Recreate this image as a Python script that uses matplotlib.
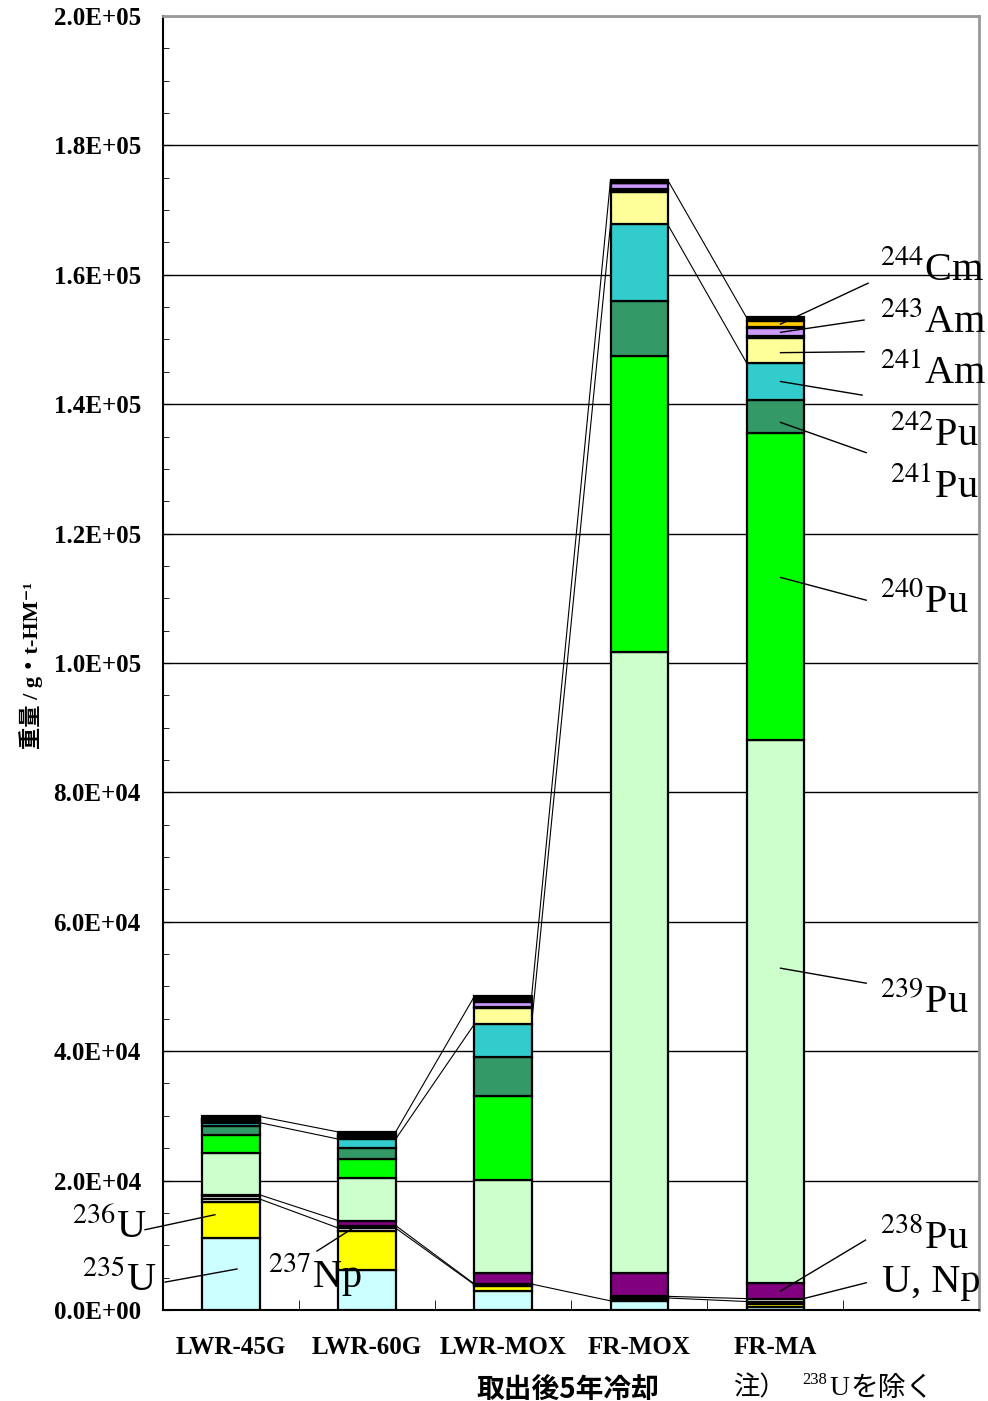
import numpy as np
import matplotlib.pyplot as plt
from matplotlib.ticker import MultipleLocator, FixedLocator

plt.rcParams['font.family'] = ['Liberation Serif', 'Noto Sans CJK JP', 'DejaVu Sans']
plt.rcParams['mathtext.fontset'] = 'stix'

cases = ['LWR-45G', 'LWR-60G', 'LWR-MOX', 'FR-MOX', 'FR-MA']

# weight per nuclide, g/t-HM, one value per case (bottom of the stack first)
u235 = [11100, 6200, 2950, 1400, 500]
u236 = [5650, 6050, 800, 250, 400]
u234 = [400, 400, 150, 200, 400]
np237 = [450, 400, 100, 250, 450]
pu238 = [200, 750, 1700, 3600, 2350]
pu239 = [6500, 6600, 14400, 96000, 84000]
pu240 = [2800, 3000, 13000, 45800, 47400]
pu241 = [1300, 1700, 6050, 8500, 5100]
pu242 = [550, 1300, 5050, 11800, 5800]
am241 = [250, 300, 2400, 4950, 3900]
am242m = [0, 0, 150, 500, 200]
am243 = [150, 200, 900, 950, 1200]
cm243 = [0, 0, 250, 0, 150]
cm244 = [100, 150, 300, 0, 1050]
others = [450, 450, 300, 450, 500]

series = [u235, u236, u234, np237, pu238, pu239, pu240, pu241, pu242,
          am241, am242m, am243, cm243, cm244, others]
colors = ['#CCFFFF', '#FFFF00', '#FFFFFF', '#FFFFFF', '#800080', '#CCFFCC',
          '#00FF00', '#339966', '#33CCCC', '#FFFF99', '#000000', '#CC99FF',
          '#000000', '#FFCC00', '#000000']

ytick_labels = ['0.0E+00', '2.0E+04', '4.0E+04', '6.0E+04', '8.0E+04', '1.0E+05',
                '1.2E+05', '1.4E+05', '1.6E+05', '1.8E+05', '2.0E+05']

# series lines between neighbouring bars: (left bar, stack level left, stack level right)
links = [(0, 15, 15), (0, 9, 9), (0, 5, 5), (0, 3, 3),
         (1, 15, 15), (1, 9, 9), (1, 4, 4), (1, 3, 3),
         (2, 15, 15), (2, 9, 9), (2, 4, 1),
         (3, 15, 15), (3, 9, 9), (3, 4, 4), (3, 3, 3)]

# labels: text, text x, text y, line start x, line start y, bar, series, fraction, x offset
labels = [
    ('$^{244}$Cm', 4.772, 160700, 4.684, 158700, 4, 13, 0.5, 0.04),
    ('$^{243}$Am', 4.772, 152700, 4.654, 153000, 4, 11, 0.5, 0.04),
    ('$^{241}$Am', 4.772, 144800, 4.654, 148100, 4, 9, 0.4, 0.04),
    (None, 0, 0, 4.64, 141400, 4, 8, 0.5, 0.04),
    ('$^{242}$Pu', 4.846, 135200, 4.67, 132500, 4, 7, 0.33, 0.04),
    ('$^{241}$Pu', 4.846, 127200, None, None, 4, 7, 0.5, 0.04),
    ('$^{240}$Pu', 4.772, 109400, 4.67, 109700, 4, 6, 0.53, 0.04),
    ('$^{239}$Pu', 4.772, 47600, 4.67, 50500, 4, 5, 0.58, 0.04),
    ('$^{238}$Pu', 4.772, 11100, 4.665, 10800, 4, 4, 0.5, 0.04),
    ('U, Np', 4.787, 4300, 4.67, 4200, 4, 3, 1.0, 0.21),
    ('$^{237}$Np', 0.272, 5400, 0.632, 9100, 1, 3, 0.5, -0.088),
    ('$^{236}$U', -1.169, 12700, -0.632, 12400, 0, 1, 0.64, -0.118),
    ('$^{235}$U', -1.096, 4600, -0.485, 4300, 0, 0, 0.57, 0.044),
]

fig = plt.figure(figsize=(9.88, 14.01), dpi=100)
ax = fig.add_axes([0.165, 0.065, 0.826, 0.9236])

x = np.arange(len(cases))
w = 0.42
data = np.array(series, dtype=float)
cum = np.vstack([np.zeros(len(cases)), np.cumsum(data, axis=0)])

for i in range(len(series)):
    ax.bar(x, data[i], w, bottom=cum[i], color=colors[i], edgecolor='black',
           linewidth=1.6, zorder=3)

for b, kl, kr in links:
    ax.plot([x[b] + w / 2, x[b + 1] - w / 2], [cum[kl, b], cum[kr, b + 1]],
            color='black', lw=0.8, zorder=2)

for txt, tx, ty, lx, ly, b, k, f, dx in labels:
    if txt is not None:
        ax.text(tx, ty, txt, fontsize=29, va='center', ha='left', clip_on=False,
                zorder=5)
    if lx is not None:
        ty2 = cum[k, b] + f * data[k, b]
        ax.plot([lx, x[b] + dx], [ly, ty2], color='black', lw=1.0, zorder=4,
                clip_on=False)

ax.set_xlim(-0.5, 5.5)
ax.set_ylim(0, 200000)
ax.set_yticks(np.arange(0, 200001, 20000))
ax.set_yticklabels(ytick_labels, fontsize=18, fontweight='bold')
ax.yaxis.set_minor_locator(MultipleLocator(5000))
ax.set_xticks(x)
ax.set_xticklabels(cases, fontsize=18, fontweight='bold')
ax.xaxis.set_minor_locator(FixedLocator(np.arange(-0.5, 5.6, 1.0)))
ax.tick_params(axis='x', which='major', length=0, pad=19)
ax.tick_params(axis='x', which='minor', direction='in', length=7)
ax.tick_params(axis='y', which='major', direction='in', length=6, pad=16)
ax.tick_params(axis='y', which='minor', direction='in', length=4)

ax.yaxis.grid(True, color='black', lw=1.0)
ax.set_axisbelow(True)
for s in ['top', 'right']:
    ax.spines[s].set_color('#999999')
    ax.spines[s].set_linewidth(2)
for s in ['left', 'bottom']:
    ax.spines[s].set_linewidth(1.5)

fig.text(0.031, 0.525, '重量 / g・t-HM⁻¹', rotation=90, fontsize=16,
         fontweight='bold', ha='center', va='center')
fig.text(0.575, 0.008, '取出後5年冷却', fontsize=20, fontweight='bold',
         ha='center', va='center', family=['Noto Sans CJK JP'])
fig.text(733 / 988, 0.009, '注）', fontsize=19, ha='left', va='center',
         family=['Noto Sans CJK JP'])
fig.text(827 / 988, 0.015, '238', fontsize=12, ha='right', va='center')
fig.text(829 / 988, 0.009, 'U', fontsize=20, ha='left', va='center')
fig.text(850 / 988, 0.009, 'を除く', fontsize=20, ha='left', va='center',
         family=['Noto Sans CJK JP'])

fig.savefig('out.png', dpi=100)
